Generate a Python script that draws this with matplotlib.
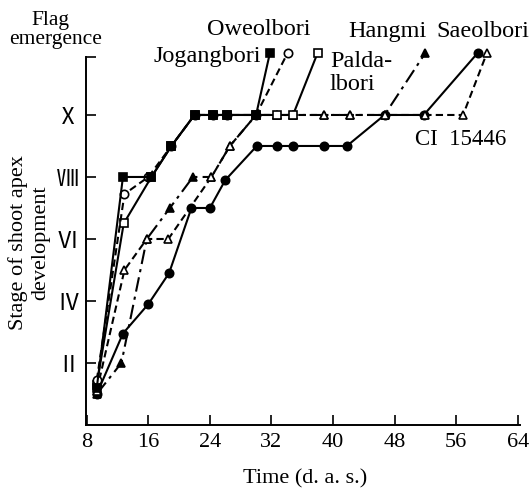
import matplotlib
matplotlib.use("Agg")
import matplotlib.pyplot as plt

plt.rcParams['font.family'] = ['Liberation Serif', 'DejaVu Serif']

# --- data (days after sowing, apex stage) ---
jogang_x = [9.3, 12.7, 16.4, 19.0, 22.0, 24.4, 26.2, 30.0, 31.8]
jogang_y = [1.2, 8.0, 8.0, 9.0, 10.0, 10.0, 10.0, 10.0, 12.0]

oweol_x = [9.3, 12.9, 16.0, 19.0, 22.0, 24.4, 26.2, 30.0, 34.1]
oweol_y = [1.45, 7.45, 8.0, 9.0, 10.0, 10.0, 10.0, 10.0, 12.0]

palda_x = [9.3, 12.8, 16.4, 19.0, 22.0, 24.4, 26.2, 30.0, 32.7, 34.8, 38.0]
palda_y = [1.3, 6.5, 8.0, 9.0, 10.0, 10.0, 10.0, 10.0, 10.0, 10.0, 12.0]

hangmi_x = [9.3, 12.5, 15.8, 18.8, 21.8, 24.2, 26.6, 30.0, 32.7, 34.8, 38.8, 42.2, 46.7, 52.0]
hangmi_y = [1.0, 2.0, 6.0, 7.0, 8.0, 8.0, 9.0, 10.0, 10.0, 10.0, 10.0, 10.0, 10.0, 12.0]

ci_x = [9.3, 12.9, 15.8, 18.6, 24.2, 26.6, 30.0, 32.7, 34.8, 38.8, 42.2, 46.7, 52.0, 56.9, 60.0]
ci_y = [1.1, 5.0, 6.0, 6.0, 8.0, 9.0, 10.0, 10.0, 10.0, 10.0, 10.0, 10.0, 10.0, 10.0, 12.0]

saeol_x = [9.3, 12.7, 16.0, 18.7, 21.6, 24.0, 26.0, 30.1, 32.7, 34.8, 38.8, 41.8, 46.7, 51.8, 58.8]
saeol_y = [1.0, 2.95, 3.9, 4.9, 7.0, 7.0, 7.9, 9.0, 9.0, 9.0, 9.0, 9.0, 10.0, 10.0, 12.0]

x_ticks = [8, 16, 24, 32, 40, 48, 56, 64]
y_ticks = [2, 4, 6, 8, 10, 11.87]
y_labels = ["Ⅱ", "Ⅳ", "Ⅵ", "Ⅷ", "Ⅹ", ""]

W, H = 529, 491
fig = plt.figure(figsize=(W / 100, H / 100), dpi=100)
ax = fig.add_axes([86 / W, (H - 425) / H, 434 / W, (425 - 57) / H])

k = dict(color="black", lw=1.5, ms=6, mec="black", mew=1.2, clip_on=False)
ax.plot(saeol_x, saeol_y, "-", marker="o", mfc="black", **k)
ax.plot(hangmi_x, hangmi_y, linestyle=(0, (7, 2.5, 1.5, 2.5)), marker="^", mfc="black", **k)
ax.plot(ci_x, ci_y, linestyle=(0, (3.5, 2)), marker="^", mfc="white", **k)
ax.plot(palda_x, palda_y, "-", marker="s", mfc="white", **k)
ax.plot(oweol_x, oweol_y, linestyle=(0, (3.5, 2)), marker="o", mfc="white", **k)
ax.plot(jogang_x, jogang_y, "-", marker="s", mfc="black", **k)

ax.set_xlim(7.9, 64.3)
ax.set_ylim(0, 11.87)
ax.set_xticks(x_ticks)
ax.set_yticks(y_ticks)
ax.set_yticklabels(y_labels, family=['Noto Sans CJK JP', 'DejaVu Sans'], fontsize=14)
ax.tick_params(direction="in", length=7, width=1.2, labelsize=16, pad=6)
ax.tick_params(axis="y", pad=5)
for s in ["top", "right"]:
    ax.spines[s].set_visible(False)
for s in ["left", "bottom"]:
    ax.spines[s].set_linewidth(1.4)

fs = 17.5
ax.text(30.4, 12.58, "Oweolbori", ha="center", va="baseline", fontsize=fs, clip_on=False)
ax.text(30.6, 11.71, "Jogangbori", ha="right", va="baseline", fontsize=fs, clip_on=False)
ax.text(39.6, 11.55, "Palda-", ha="left", va="baseline", fontsize=fs)
ax.text(39.6, 10.8, "lbori", ha="left", va="baseline", fontsize=fs)
ax.text(47.1, 12.5, "Hangmi", ha="center", va="baseline", fontsize=fs, clip_on=False)
ax.text(59.5, 12.5, "Saeolbori", ha="center", va="baseline", fontsize=fs, clip_on=False)
ax.text(50.65, 9.03, "CI  15446", ha="left", va="baseline", fontsize=16.5)

fig.text(50 / W, 1 - 25 / H, "Flag", ha="center", va="baseline", fontsize=15.5)
fig.text(56 / W, 1 - 44 / H, "emergence", ha="center", va="baseline", fontsize=15.5)
fig.text(29 / W, 1 - 243 / H, "Stage of shoot apex\ndevelopment", rotation=90,
         ha="center", va="center", fontsize=16, multialignment="center", linespacing=1.2)
fig.text(305 / W, 1 - 483 / H, "Time (d. a. s.)", ha="center", va="baseline", fontsize=16)

fig.savefig("out.png", dpi=100)
